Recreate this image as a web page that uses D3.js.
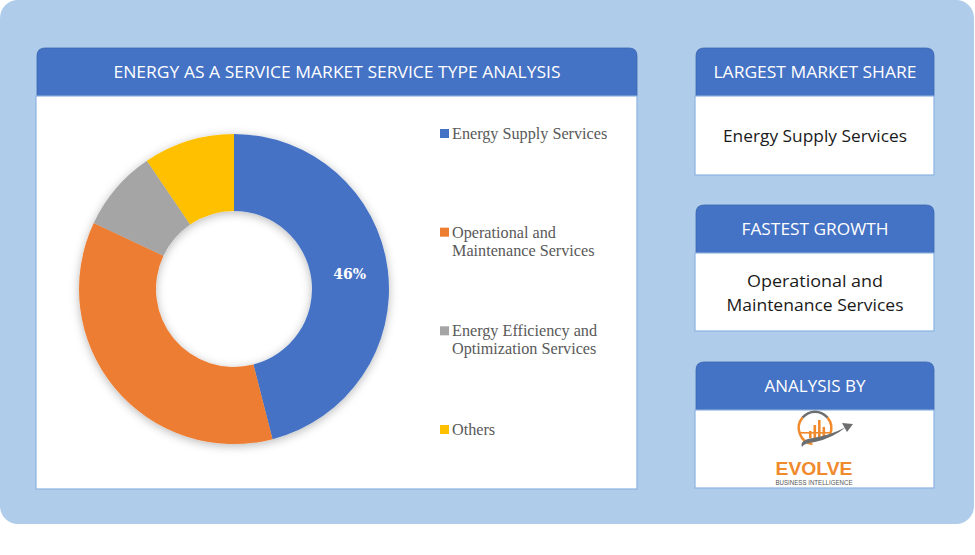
<!DOCTYPE html>
<html>
<head>
<meta charset="utf-8">
<script src="https://cdn.jsdelivr.net/npm/d3@7"></script>
<style>
  body { margin: 0; background: #ffffff; }
  svg { display: block; }
</style>
</head>
<body>
<svg id="chart"></svg>
<script>
// data
var categories = ["Energy Supply Services", "Operational and Maintenance Services", "Energy Efficiency and Optimization Services", "Others"];
var shares = [46, 36, 8.5, 9.5];
var legendLines = [["Energy Supply Services"], ["Operational and", "Maintenance Services"], ["Energy Efficiency and", "Optimization Services"], ["Others"]];
var sliceColors = ["#4472C4", "#ED7D31", "#A5A5A5", "#FFC000"];
var title = "ENERGY AS A SERVICE MARKET SERVICE TYPE ANALYSIS";
var sideHeads = ["LARGEST MARKET SHARE", "FASTEST GROWTH", "ANALYSIS BY"];
var sideTexts = [["Energy Supply Services"], ["Operational and", "Maintenance Services"]];

var width = 975, height = 555;
var headBlue = "#4472C4", bg = "#AFCDEA", edge = "#8DB3E2";

var svg = d3.select("#chart").attr("width", width).attr("height", height);

var defs = svg.append("defs");
var f = defs.append("filter").attr("id", "shadow").attr("x", "-20%").attr("y", "-20%").attr("width", "140%").attr("height", "140%");
f.append("feDropShadow").attr("dx", 0).attr("dy", 2).attr("stdDeviation", 5).attr("flood-color", "#000").attr("flood-opacity", 0.28);

// outer background
svg.append("rect").attr("x", 0).attr("y", 0).attr("width", 974).attr("height", 524).attr("rx", 18).attr("fill", bg);

// panel with rounded header
function panel(x, y, w, headH, bodyH, label, fontSize, textW) {
  var g = svg.append("g");
  var r = 8;
  g.append("path")
    .attr("d", "M" + x + "," + (y + headH) + "V" + (y + r) + "Q" + x + "," + y + " " + (x + r) + "," + y +
      "H" + (x + w - r) + "Q" + (x + w) + "," + y + " " + (x + w) + "," + (y + r) + "V" + (y + headH) + "Z")
    .attr("fill", headBlue).attr("stroke", "#3A64B0").attr("stroke-width", 0.8);
  g.append("rect").attr("x", x - 1).attr("y", y + headH).attr("width", w + 1).attr("height", bodyH)
    .attr("fill", "#fff").attr("stroke", edge).attr("stroke-width", 1.2);
  g.append("text")
    .attr("x", x + w / 2).attr("y", y + headH / 2 + fontSize * 0.38)
    .attr("text-anchor", "middle")
    .attr("font-family", "'Open Sans', sans-serif")
    .attr("font-size", fontSize)
    .attr("fill", "#fff")
    .attr("textLength", textW).attr("lengthAdjust", "spacingAndGlyphs")
    .text(label);
  return g;
}

panel(37, 48, 600, 48, 393, title, 16.5, 447);
panel(696, 48, 238, 48, 79, sideHeads[0], 16.5, 203);
panel(696, 205, 238, 48, 78, sideHeads[1], 16.5, 147);
panel(696, 362, 238, 48, 78, sideHeads[2], 16.5, 101);

// side panel texts
var sideY = [[142], [287, 311]];
var sideW = [[184], [136, 177]];
sideTexts.forEach(function(lines, i) {
  lines.forEach(function(t, j) {
    svg.append("text")
      .attr("x", 815).attr("y", sideY[i][j])
      .attr("text-anchor", "middle")
      .attr("font-family", "'Open Sans', sans-serif")
      .attr("font-size", 17).attr("fill", "#1a1a1a")
      .attr("textLength", sideW[i][j]).attr("lengthAdjust", "spacingAndGlyphs")
      .text(t);
  });
});

// donut
var cx = 234, cy = 289, outerR = 155, innerR = 78;
var pie = d3.pie().sort(null).value(function(d) { return d; });
var arc = d3.arc().innerRadius(innerR).outerRadius(outerR);
var arcs = pie(shares);

var donut = svg.append("g").attr("transform", "translate(" + cx + "," + cy + ")");
donut.append("g").attr("filter", "url(#shadow)")
  .selectAll("path")
  .data(arcs)
  .enter()
  .append("path")
  .attr("d", arc)
  .attr("fill", function(d, i) { return sliceColors[i]; });

// label only on the largest slice
donut.append("text")
  .attr("transform", "translate(" + arc.centroid(arcs[0]) + ")")
  .attr("text-anchor", "middle")
  .attr("dy", "0.35em")
  .attr("font-family", "'DejaVu Serif', serif")
  .attr("font-weight", "bold")
  .attr("font-size", 14)
  .attr("fill", "#fff")
  .text(shares[0] + "%");

// legend
var legendY = d3.scalePoint().domain(categories).range([139, 435]);
var legend = svg.append("g");
categories.forEach(function(c, i) {
  var y = legendY(c);
  legend.append("rect").attr("x", 440).attr("y", y - 10).attr("width", 9).attr("height", 9).attr("fill", sliceColors[i]);
  legendLines[i].forEach(function(t, j) {
    legend.append("text")
      .attr("x", 452).attr("y", y + j * 18)
      .attr("font-family", "'Liberation Serif', serif")
      .attr("font-size", 16.2)
      .attr("fill", "#595959")
      .text(t);
  });
});

// logo
var orange = "#F08A2C", grey = "#6d6e70";
var logo = svg.append("g").attr("transform", "translate(815,428)");
logo.append("path")
  .attr("d", d3.arc().innerRadius(15).outerRadius(17.5).startAngle(-Math.PI * 0.28).endAngle(Math.PI * 0.28)())
  .attr("fill", grey);
logo.append("path")
  .attr("d", d3.arc().innerRadius(15).outerRadius(17.5).startAngle(Math.PI * 0.28).endAngle(Math.PI * 0.62)())
  .attr("fill", orange);
logo.append("path")
  .attr("d", d3.arc().innerRadius(15).outerRadius(17.5).startAngle(-Math.PI * 0.95).endAngle(-Math.PI * 0.28)())
  .attr("fill", orange);
logo.append("rect").attr("x", -15).attr("y", 4).attr("width", 30).attr("height", 1.6).attr("fill", orange);
[[-6, 7], [-1.5, 13], [3, 18], [7.5, 11]].forEach(function(b) {
  logo.append("rect").attr("x", b[0]).attr("y", 10 - b[1]).attr("width", 2.6).attr("height", b[1]).attr("fill", orange);
});
logo.append("path")
  .attr("d", "M-13,19 Q-16,12 -2,10 Q16,7 31,-1 Q18,10 0,14 Q-11,15 -13,19Z")
  .attr("fill", grey);
logo.append("path")
  .attr("d", "M27,-5 L38,-4 L32,4Z")
  .attr("fill", grey);
logo.append("text")
  .attr("x", -1).attr("y", 47)
  .attr("text-anchor", "middle")
  .attr("font-family", "'Liberation Sans', sans-serif")
  .attr("font-weight", "bold").attr("font-size", 18)
  .attr("fill", orange)
  .attr("textLength", 77).attr("lengthAdjust", "spacingAndGlyphs")
  .text("EVOLVE");
logo.append("text")
  .attr("x", -1).attr("y", 57)
  .attr("text-anchor", "middle")
  .attr("font-family", "'Liberation Sans', sans-serif")
  .attr("font-size", 7).attr("fill", "#555")
  .attr("textLength", 77).attr("lengthAdjust", "spacingAndGlyphs")
  .text("BUSINESS INTELLIGENCE");
</script>
</body>
</html>
